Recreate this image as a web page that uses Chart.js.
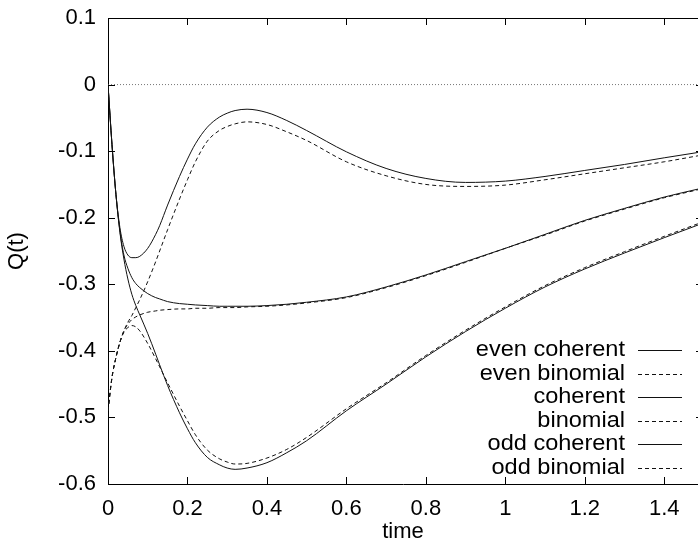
<!DOCTYPE html>
<html>
<head>
<meta charset="utf-8">
<script src="https://cdn.jsdelivr.net/npm/chart.js@4"></script>
<style>
  body { margin: 0; background: #fff; }
  canvas { display: block; }
</style>
</head>
<body>
<canvas id="chart" width="698" height="543"></canvas>
<script>
// sample times (the picture is cut just before t = 1.5)
const times = [0, 0.01, 0.02, 0.03, 0.04, 0.05, 0.06, 0.07, 0.08, 0.1, 0.12, 0.13, 0.15, 0.18, 0.2, 0.22, 0.25, 0.28, 0.3, 0.32, 0.35, 0.4, 0.45, 0.5, 0.6, 0.7, 0.8, 0.9, 1.0, 1.1, 1.2, 1.3, 1.4, 1.485];

const evenCoherent = [0, -0.09, -0.165, -0.215, -0.243, -0.256, -0.26, -0.26, -0.258, -0.246, -0.225, -0.212, -0.181, -0.138, -0.112, -0.089, -0.064, -0.049, -0.043, -0.039, -0.037, -0.042, -0.054, -0.069, -0.101, -0.126, -0.141, -0.147, -0.145, -0.138, -0.129, -0.12, -0.11, -0.102];
const evenBinomial = [-0.49, -0.44, -0.41, -0.387, -0.37, -0.357, -0.347, -0.335, -0.323, -0.296, -0.266, -0.25, -0.218, -0.172, -0.143, -0.116, -0.085, -0.069, -0.063, -0.059, -0.056, -0.06, -0.071, -0.084, -0.116, -0.137, -0.15, -0.153, -0.151, -0.143, -0.134, -0.125, -0.116, -0.107];
const coherent = [0, -0.09, -0.165, -0.22, -0.256, -0.276, -0.29, -0.299, -0.305, -0.314, -0.32, -0.322, -0.326, -0.329, -0.33, -0.331, -0.332, -0.333, -0.333, -0.333, -0.333, -0.332, -0.33, -0.327, -0.319, -0.304, -0.286, -0.266, -0.246, -0.225, -0.204, -0.186, -0.169, -0.157];
const binomial = [-0.49, -0.44, -0.41, -0.387, -0.37, -0.36, -0.353, -0.349, -0.346, -0.342, -0.34, -0.339, -0.338, -0.337, -0.337, -0.336, -0.336, -0.335, -0.335, -0.335, -0.334, -0.333, -0.331, -0.328, -0.32, -0.305, -0.287, -0.267, -0.246, -0.226, -0.205, -0.187, -0.17, -0.158];
const oddCoherent = [0, -0.09, -0.165, -0.222, -0.262, -0.292, -0.315, -0.332, -0.346, -0.374, -0.405, -0.421, -0.452, -0.493, -0.517, -0.538, -0.56, -0.571, -0.576, -0.578, -0.576, -0.568, -0.553, -0.535, -0.49, -0.45, -0.409, -0.371, -0.336, -0.304, -0.277, -0.253, -0.23, -0.211];
const oddBinomial = [-0.49, -0.44, -0.41, -0.387, -0.372, -0.365, -0.362, -0.364, -0.37, -0.389, -0.412, -0.424, -0.448, -0.483, -0.505, -0.526, -0.549, -0.562, -0.567, -0.57, -0.569, -0.561, -0.548, -0.53, -0.487, -0.448, -0.407, -0.369, -0.334, -0.302, -0.275, -0.251, -0.228, -0.209];

const seriesNames = ["even coherent", "even binomial", "coherent", "binomial", "odd coherent", "odd binomial"];
const seriesValues = [evenCoherent, evenBinomial, coherent, binomial, oddCoherent, oddBinomial];

const xMin = 0, xMax = 1.485, xStep = 0.2;
const yMin = -0.6, yMax = 0.1, yStep = 0.1;

const FONT = "'Liberation Sans', Arial, Helvetica, sans-serif";
const INK = "#111";

const datasets = seriesNames.map((name, i) => ({
    label: name,
    data: times.map((t, j) => ({ x: t, y: seriesValues[i][j] })),
    borderColor: INK,
    borderWidth: 1,
    borderDash: name.includes("binomial") ? [4, 3] : [],
    pointRadius: 0,
    cubicInterpolationMode: "monotone",
    fill: false,
}));

// dotted zero line
datasets.push({
    label: "",
    data: [{ x: xMin, y: 0 }, { x: xMax, y: 0 }],
    borderColor: "#777",
    borderWidth: 1,
    borderDash: [1, 2],
    pointRadius: 0,
});

// gnuplot-like frame: top border, inward ticks and the key
const framePlugin = {
    id: "frame",
    afterDatasetsDraw(chart) {
        const { ctx, chartArea: a, scales: { x, y } } = chart;
        ctx.save();
        ctx.strokeStyle = "#000";
        ctx.lineWidth = 1;
        ctx.setLineDash([]);
        ctx.beginPath();
        ctx.moveTo(a.left, Math.round(a.top) + 0.5);
        ctx.lineTo(a.right, Math.round(a.top) + 0.5);
        x.ticks.forEach((t) => {
            const px = Math.round(x.getPixelForValue(t.value)) + 0.5;
            ctx.moveTo(px, a.bottom);
            ctx.lineTo(px, a.bottom - 7);
            ctx.moveTo(px, a.top);
            ctx.lineTo(px, a.top + 7);
        });
        y.ticks.forEach((t) => {
            const py = Math.round(y.getPixelForValue(t.value)) + 0.5;
            ctx.moveTo(a.left, py);
            ctx.lineTo(a.left + 7, py);
            ctx.moveTo(a.right - 2, py);
            ctx.lineTo(a.right, py);
        });
        ctx.stroke();

        // key, text right aligned with the line sample on its right
        ctx.font = "22px " + FONT;
        ctx.fillStyle = "#000";
        ctx.textBaseline = "middle";
        ctx.textAlign = "right";
        const textRight = a.right - 73;
        chart.data.datasets.forEach((ds, i) => {
            if (!ds.label) return;
            const rowY = 350 + i * 23.5;
            ctx.save();
            ctx.translate(textRight, rowY);
            ctx.scale(1.07, 1);
            ctx.fillText(ds.label, 0, 0);
            ctx.restore();
            ctx.beginPath();
            ctx.strokeStyle = INK;
            ctx.setLineDash(ds.borderDash);
            ctx.moveTo(a.right - 60, Math.round(rowY) + 0.5);
            ctx.lineTo(a.right - 16, Math.round(rowY) + 0.5);
            ctx.stroke();
        });
        ctx.restore();
    },
};

new Chart(document.getElementById("chart"), {
    type: "line",
    data: { datasets },
    options: {
        responsive: false,
        animation: false,
        devicePixelRatio: 1,
        layout: { padding: { top: 18, right: 0, bottom: 0, left: 0 } },
        plugins: { legend: { display: false }, tooltip: { enabled: false } },
        scales: {
            x: {
                type: "linear",
                min: xMin,
                max: xMax,
                grid: { display: false, drawTicks: false },
                border: { display: true, color: "#000", width: 1 },
                ticks: {
                    stepSize: xStep,
                    includeBounds: false,
                    maxRotation: 0,
                    padding: 12,
                    color: "#000",
                    font: { family: FONT, size: 22 },
                    callback: (v) => String(Math.round(v * 10) / 10),
                },
                title: {
                    display: true,
                    text: "time",
                    color: "#000",
                    font: { family: FONT, size: 22 },
                    padding: { top: 0, bottom: -2 },
                },
                afterFit: (s) => { s.height = 59; },
            },
            y: {
                min: yMin,
                max: yMax,
                grid: { display: false, drawTicks: false },
                border: { display: true, color: "#000", width: 1 },
                ticks: {
                    stepSize: yStep,
                    padding: 12,
                    color: "#000",
                    font: { family: FONT, size: 22 },
                    callback: (v) => String(Math.round(v * 10) / 10),
                },
                title: {
                    display: true,
                    text: "Q(t)",
                    color: "#000",
                    font: { family: FONT, size: 22 },
                    padding: { top: 4, bottom: 0 },
                },
                afterFit: (s) => {
                    s.width = 108;
                    s.paddingTop = 0;
                    s.paddingBottom = 0;
                },
            },
        },
    },
    plugins: [framePlugin],
});
</script>
</body>
</html>
